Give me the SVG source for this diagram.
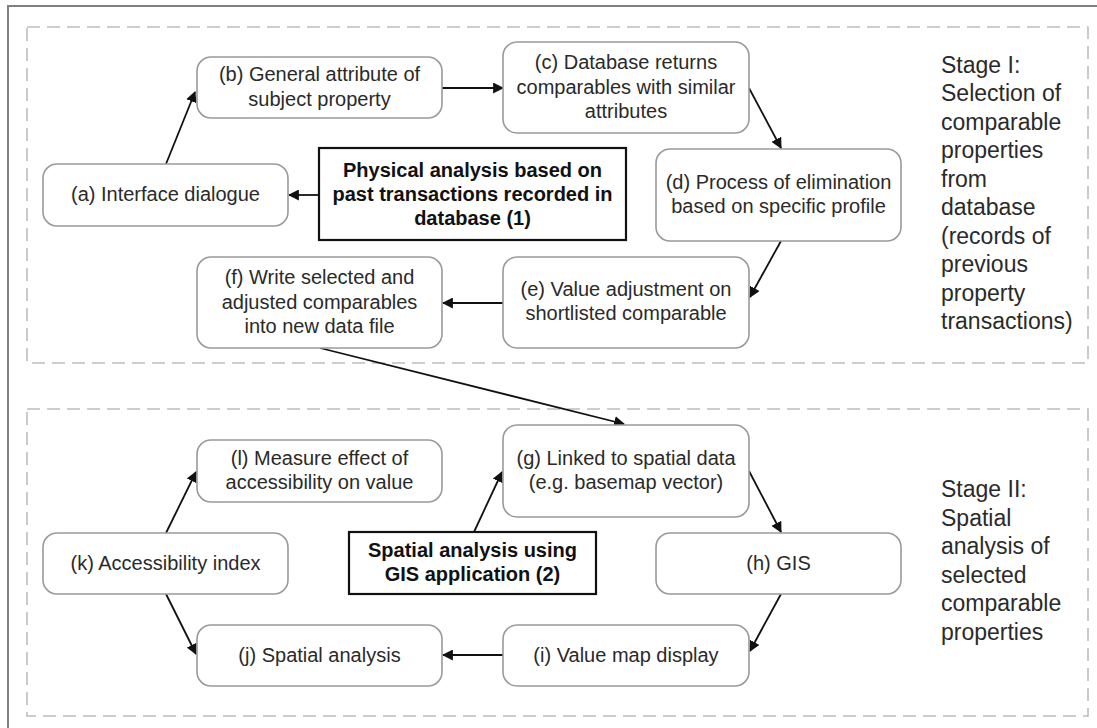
<svg xmlns="http://www.w3.org/2000/svg" width="1097" height="728" viewBox="0 0 1097 728">
<style>
.node{fill:#fff;stroke:#9a9a9a;stroke-width:1.6}
.core{fill:#fff;stroke:#111;stroke-width:2.2}
.t{font-family:"Liberation Sans",Arial,sans-serif;font-size:20px;fill:#2a2a2a;text-anchor:middle}
.b{font-family:"Liberation Sans",Arial,sans-serif;font-size:20px;font-weight:bold;fill:#111;text-anchor:middle}
.s{font-family:"Liberation Sans",Arial,sans-serif;font-size:23px;fill:#2a2a2a}
.stage{fill:none;stroke:#bdbdbd;stroke-width:1.6;stroke-dasharray:13 7}
.c{fill:none;stroke:#111;stroke-width:1.8;marker-end:url(#ah)}
</style>
<defs>
<marker id="ah" viewBox="0 0 10 10" refX="9" refY="5" markerWidth="11" markerHeight="11" markerUnits="userSpaceOnUse" orient="auto">
<path d="M0,0 L10,5 L0,10 z" fill="#111"/>
</marker>
</defs>
<rect x="0" y="0" width="1097" height="728" fill="#fff"/>
<rect x="8" y="6" width="1100" height="740" fill="none" stroke="#808080" stroke-width="2"/>
<rect class="stage" x="27" y="27" width="1061" height="336"/>
<rect class="stage" x="27" y="409" width="1061" height="307"/>

<g id="connectors">
<line class="c" x1="166" y1="164" x2="195" y2="92"/>
<line class="c" x1="442" y1="88" x2="503" y2="88"/>
<line class="c" x1="749" y1="88" x2="781" y2="148"/>
<line class="c" x1="781" y1="241" x2="750" y2="297"/>
<line class="c" x1="503" y1="303" x2="443" y2="303"/>
<line class="c" x1="319" y1="195" x2="289" y2="195"/>
<line class="c" x1="320" y1="348" x2="624" y2="424"/>
<line class="c" x1="474" y1="532" x2="502" y2="472"/>
<line class="c" x1="749" y1="471" x2="781" y2="532"/>
<line class="c" x1="781" y1="594" x2="750" y2="651"/>
<line class="c" x1="503" y1="655" x2="443" y2="655"/>
<line class="c" x1="166" y1="533" x2="196" y2="472"/>
<line class="c" x1="166" y1="594" x2="196" y2="654"/>
</g>

<g id="node-a"><rect class="node" x="43" y="164" width="245" height="62" rx="14"/><text class="t" x="165.5" y="201">(a) Interface dialogue</text></g>
<g id="node-b"><rect class="node" x="197" y="57" width="245" height="61" rx="14"/><text class="t" x="319.5" y="81">(b) General attribute of</text><text class="t" x="319.5" y="106">subject property</text></g>
<g id="node-c"><rect class="node" x="503" y="42" width="246" height="91" rx="14"/><text class="t" x="626" y="69">(c) Database returns</text><text class="t" x="626" y="93.5">comparables with similar</text><text class="t" x="626" y="118">attributes</text></g>
<g id="node-physical"><rect class="core" x="319" y="148" width="307" height="92"/><text class="b" x="472.5" y="177">Physical analysis based on</text><text class="b" x="472.5" y="201">past transactions recorded in</text><text class="b" x="472.5" y="225">database (1)</text></g>
<g id="node-d"><rect class="node" x="656" y="149" width="245" height="92" rx="14"/><text class="t" x="778.5" y="189">(d) Process of elimination</text><text class="t" x="778.5" y="213">based on specific profile</text></g>
<g id="node-e"><rect class="node" x="503" y="257" width="246" height="91" rx="14"/><text class="t" x="626" y="296">(e) Value adjustment on</text><text class="t" x="626" y="320">shortlisted comparable</text></g>
<g id="node-f"><rect class="node" x="197" y="257" width="245" height="91" rx="14"/><text class="t" x="319.5" y="284">(f) Write selected and</text><text class="t" x="319.5" y="309">adjusted comparables</text><text class="t" x="319.5" y="333">into new data file</text></g>

<g id="stage1-label"><text class="s" x="941" y="72.5">Stage I:</text><text class="s" x="941" y="101">Selection of</text><text class="s" x="941" y="129.5">comparable</text><text class="s" x="941" y="158">properties</text><text class="s" x="941" y="186.5">from</text><text class="s" x="941" y="215">database</text><text class="s" x="941" y="243.5">(records of</text><text class="s" x="941" y="272">previous</text><text class="s" x="941" y="300.5">property</text><text class="s" x="941" y="329">transactions)</text></g>

<g id="node-l"><rect class="node" x="197" y="440" width="245" height="62" rx="14"/><text class="t" x="319.5" y="465">(l) Measure effect of</text><text class="t" x="319.5" y="489">accessibility on value</text></g>
<g id="node-g"><rect class="node" x="503" y="425" width="246" height="92" rx="14"/><text class="t" x="626" y="465">(g) Linked to spatial data</text><text class="t" x="626" y="489">(e.g. basemap vector)</text></g>
<g id="node-k"><rect class="node" x="43" y="533" width="245" height="61" rx="14"/><text class="t" x="165.5" y="570">(k) Accessibility index</text></g>
<g id="node-spatial"><rect class="core" x="349" y="532" width="247" height="62"/><text class="b" x="472.5" y="557">Spatial analysis using</text><text class="b" x="472.5" y="581">GIS application (2)</text></g>
<g id="node-h"><rect class="node" x="656" y="533" width="245" height="61" rx="14"/><text class="t" x="778.5" y="570">(h) GIS</text></g>
<g id="node-j"><rect class="node" x="197" y="625" width="245" height="61" rx="14"/><text class="t" x="319.5" y="662">(j) Spatial analysis</text></g>
<g id="node-i"><rect class="node" x="503" y="625" width="246" height="61" rx="14"/><text class="t" x="626" y="662">(i) Value map display</text></g>

<g id="stage2-label"><text class="s" x="941" y="497">Stage II:</text><text class="s" x="941" y="525.5">Spatial</text><text class="s" x="941" y="554">analysis of</text><text class="s" x="941" y="582.5">selected</text><text class="s" x="941" y="611">comparable</text><text class="s" x="941" y="639.5">properties</text></g>
</svg>
